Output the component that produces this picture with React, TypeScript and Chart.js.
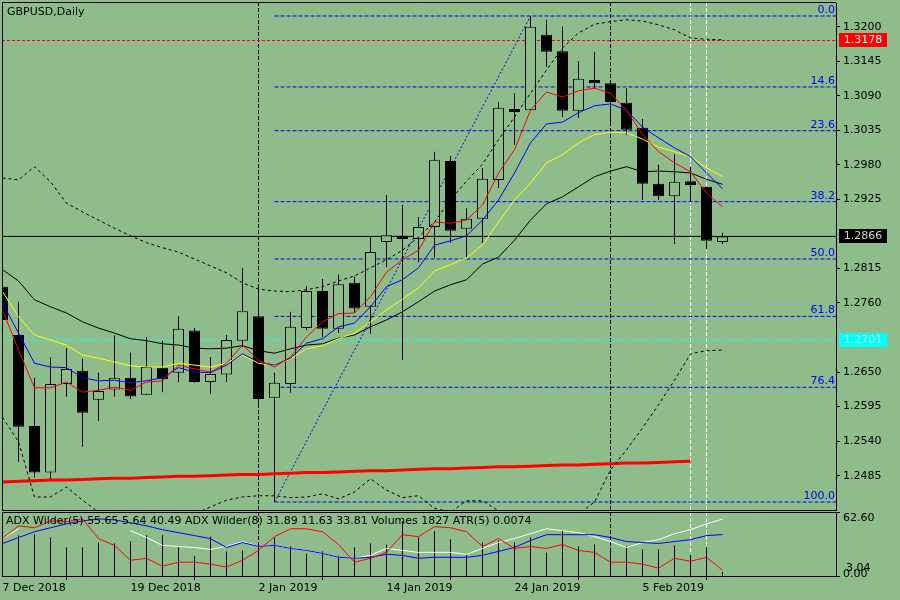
import React, { useEffect, useRef } from 'react';
import { Chart, registerables } from 'chart.js';

Chart.register(...registerables);

const BG = '#8fbc8b';
const FAMILY = "'DejaVu Sans', sans-serif";
const FONT = `11px ${FAMILY}`;

// ---------- data ----------
const dates = [
  '7 Dec 2018', '10 Dec 2018', '11 Dec 2018', '12 Dec 2018', '13 Dec 2018', '14 Dec 2018', '17 Dec 2018', '18 Dec 2018',
  '19 Dec 2018', '20 Dec 2018', '21 Dec 2018', '24 Dec 2018', '26 Dec 2018', '27 Dec 2018', '28 Dec 2018', '31 Dec 2018',
  '2 Jan 2019', '3 Jan 2019', '4 Jan 2019', '7 Jan 2019', '8 Jan 2019', '9 Jan 2019', '10 Jan 2019', '11 Jan 2019',
  '14 Jan 2019', '15 Jan 2019', '16 Jan 2019', '17 Jan 2019', '18 Jan 2019', '21 Jan 2019', '22 Jan 2019', '23 Jan 2019',
  '24 Jan 2019', '25 Jan 2019', '28 Jan 2019', '29 Jan 2019', '30 Jan 2019', '31 Jan 2019', '1 Feb 2019', '4 Feb 2019',
  '5 Feb 2019', '6 Feb 2019', '7 Feb 2019', '8 Feb 2019', '11 Feb 2019', '12 Feb 2019',
];
const dateTickIdx = [0, 8, 16, 24, 32, 40];

const opens = [
  1.2786, 1.2709, 1.2564, 1.2490, 1.2631, 1.2652, 1.2606, 1.2622, 1.2641, 1.2614,
  1.2657, 1.2649, 1.2716, 1.2634, 1.2646, 1.2700, 1.2739, 1.2609, 1.2631, 1.2720,
  1.2779, 1.2719, 1.2792, 1.2754, 1.2857, 1.2867, 1.2862, 1.2881, 1.2986, 1.2878,
  1.2894, 1.2956, 1.3069, 1.3067, 1.3187, 1.3161, 1.3066, 1.3115, 1.3110, 1.3079,
  1.3039, 1.2950, 1.2930, 1.2954, 1.2945, 1.2857,
];
const highs = [
  1.2789, 1.2762, 1.2641, 1.2673, 1.2688, 1.2671, 1.2649, 1.2708, 1.2681, 1.2706,
  1.2700, 1.2739, 1.2720, 1.2674, 1.2709, 1.2816, 1.2786, 1.2649, 1.2746, 1.2787,
  1.2798, 1.2805, 1.2802, 1.2865, 1.2932, 1.2916, 1.2897, 1.3001, 1.2994, 1.2911,
  1.2975, 1.3080, 1.3094, 1.3217, 1.3211, 1.3200, 1.3145, 1.3160, 1.3112, 1.3102,
  1.3053, 1.2980, 1.2997, 1.2977, 1.2945, 1.2872,
];
const lows = [
  1.2730, 1.2507, 1.2482, 1.2478, 1.2611, 1.2531, 1.2572, 1.2611, 1.2607, 1.2614,
  1.2618, 1.2634, 1.2633, 1.2615, 1.2634, 1.2690, 1.2598, 1.2443, 1.2617, 1.2717,
  1.2706, 1.2712, 1.2744, 1.2711, 1.2817, 1.2669, 1.2825, 1.2832, 1.2856, 1.2833,
  1.2856, 1.2943, 1.3012, 1.3067, 1.3136, 1.3056, 1.3055, 1.3101, 1.3044, 1.3028,
  1.2924, 1.2924, 1.2854, 1.2921, 1.2846, 1.2854,
];
const closes = [
  1.2733, 1.2563, 1.2490, 1.2631, 1.2655, 1.2585, 1.2620, 1.2641, 1.2611, 1.2658,
  1.2639, 1.2719, 1.2634, 1.2647, 1.2701, 1.2747, 1.2607, 1.2633, 1.2722, 1.2779,
  1.2719, 1.2790, 1.2751, 1.2841, 1.2868, 1.2862, 1.2881, 1.2988, 1.2875, 1.2894,
  1.2958, 1.3071, 1.3064, 1.3200, 1.3160, 1.3066, 1.3117, 1.3110, 1.3080, 1.3036,
  1.2950, 1.2930, 1.2953, 1.2948, 1.2859, 1.2866,
];

const maRed = [
  1.2749, 1.2685, 1.2625, 1.2625, 1.2634, 1.2618, 1.2621, 1.2626, 1.2621, 1.2634,
  1.2636, 1.2661, 1.2655, 1.2650, 1.2664, 1.2693, 1.2669, 1.2658, 1.2674, 1.2706,
  1.2730, 1.2743, 1.2744, 1.2770, 1.2809, 1.2829, 1.2844, 1.2889, 1.2887, 1.2892,
  1.2916, 1.2967, 1.3004, 1.3067, 1.3096, 1.3088, 1.3098, 1.3102, 1.3094, 1.3067,
  1.3028, 1.3001, 1.2983, 1.2969, 1.2935, 1.2913,
];
const maBlue = [
  1.2760, 1.2712, 1.2664, 1.2658, 1.2657, 1.2641, 1.2636, 1.2637, 1.2633, 1.2636,
  1.2641, 1.2657, 1.2650, 1.2649, 1.2661, 1.2679, 1.2666, 1.2661, 1.2672, 1.2696,
  1.2703, 1.2722, 1.2728, 1.2754, 1.2786, 1.2797, 1.2816, 1.2852, 1.2859, 1.2867,
  1.2892, 1.2924, 1.2967, 1.3015, 1.3045, 1.3048, 1.3063, 1.3074, 1.3077, 1.3067,
  1.3040, 1.3023, 1.3007, 1.2993, 1.2967, 1.2942,
];
const maYellow = [
  1.2778, 1.2738, 1.2709, 1.2701, 1.2693, 1.2677, 1.2672, 1.2666, 1.2660, 1.2658,
  1.2658, 1.2664, 1.2661, 1.2658, 1.2664, 1.2677, 1.2664, 1.2660, 1.2671, 1.2687,
  1.2692, 1.2703, 1.2712, 1.2730, 1.2749, 1.2766, 1.2784, 1.2811, 1.2821, 1.2832,
  1.2852, 1.2889, 1.2924, 1.2951, 1.2983, 1.2996, 1.3015, 1.3028, 1.3032, 1.3031,
  1.3021, 1.3008, 1.3001, 1.2993, 1.2975, 1.2961,
];
const maBlack = [
  1.2813, 1.2795, 1.2765, 1.2754, 1.2744, 1.2730, 1.2720, 1.2712, 1.2703, 1.2700,
  1.2695, 1.2693, 1.2688, 1.2687, 1.2688, 1.2692, 1.2684, 1.2680, 1.2687, 1.2693,
  1.2695, 1.2704, 1.2709, 1.2722, 1.2733, 1.2746, 1.2762, 1.2779, 1.2789, 1.2797,
  1.2822, 1.2833, 1.2860, 1.2892, 1.2918, 1.2929, 1.2945, 1.2961, 1.2970, 1.2977,
  1.2969, 1.2970, 1.2969, 1.2967, 1.2957, 1.2949,
];
const bbUpper = [
  1.2959, 1.2956, 1.2977, 1.2953, 1.2919, 1.2905, 1.2892, 1.2879, 1.2867, 1.2856,
  1.2848, 1.2841, 1.2830, 1.2819, 1.2808, 1.2792, 1.2782, 1.2779, 1.2778, 1.2781,
  1.2786, 1.2795, 1.2803, 1.2816, 1.2829, 1.2844, 1.2865, 1.2889, 1.2924, 1.2954,
  1.2981, 1.3020, 1.3056, 1.3094, 1.3131, 1.3166, 1.3190, 1.3204, 1.3208, 1.3211,
  1.3209, 1.3203, 1.3195, 1.3182, 1.3180, 1.3179,
];
const bbLower = [
  1.2578, 1.2539, 1.2451, 1.2451, 1.2467, 1.2446, 1.2427, 1.2418, 1.2411, 1.2406,
  1.2408, 1.2414, 1.2424, 1.2435, 1.2446, 1.2451, 1.2453, 1.2453, 1.2450, 1.2451,
  1.2456, 1.2448, 1.2459, 1.2480, 1.2462, 1.2450, 1.2453, 1.2433, 1.2427, 1.2445,
  1.2445, 1.2429, 1.2422, 1.2418, 1.2414, 1.2418, 1.2424, 1.2443, 1.2494, 1.2526,
  1.2561, 1.2598, 1.2637, 1.2679, 1.2684, 1.2685,
];
const ma200 = [
  1.2475, 1.2476, 1.2477, 1.2478, 1.2478, 1.2479, 1.2480, 1.2481, 1.2481, 1.2482,
  1.2483, 1.2484, 1.2484, 1.2485, 1.2486, 1.2487, 1.2487, 1.2488, 1.2489, 1.2490,
  1.2490, 1.2491, 1.2492, 1.2493, 1.2493, 1.2494, 1.2495, 1.2496, 1.2496, 1.2497,
  1.2498, 1.2499, 1.2499, 1.2500, 1.2501, 1.2502, 1.2502, 1.2503, 1.2504, 1.2505,
  1.2505, 1.2506, 1.2507, 1.2508, null, null,
];

// sub window (ADX Wilder / Volumes)
const adxMain = [
  36.6, 46.2, null, null, null, null, null, null, 44.3, 37.6,
  29.9, 28.9, 27.9, 26.0, 28.9, 33.7, 28.9, 29.9, 27.0, 25.0,
  22.1, 18.3, 17.3, 20.2, 27.0, 25.0, 23.1, 23.1, 23.1, 21.2,
  27.0, 32.7, 36.6, 41.4, 46.2, 44.3, 42.4, 38.5, 33.7, 27.9,
  32.7, 35.6, 41.4, 45.3, 51.0, 55.65,
];
const minusDI = [
  31.8, 37.6, 43.3, 47.2, 51.0, 53.9, 55.9, 54.9, 52.0, 49.1,
  45.3, 42.4, 39.5, 36.6, 27.9, 32.7, 28.9, 29.9, 27.0, 25.0,
  22.1, 18.3, 17.3, 18.3, 21.2, 20.2, 17.3, 18.3, 18.3, 18.3,
  20.2, 24.1, 27.9, 34.7, 40.4, 40.4, 40.4, 40.4, 37.6, 33.7,
  32.7, 31.8, 33.7, 35.6, 39.5, 40.49,
];
const plusDI = [
  36.6, 49.1, 47.2, 53.9, 53.0, 55.9, 36.6, 29.9, 15.4, 17.3,
  9.6, 13.5, 13.5, 11.6, 8.7, 15.4, 25.0, 38.5, 46.2, 46.2,
  43.3, 30.8, 13.5, 17.3, 23.1, 40.4, 38.5, 48.2, 47.2, 43.3,
  28.9, 36.6, 27.0, 28.9, 27.0, 30.8, 25.0, 23.1, 13.5, 13.5,
  11.6, 7.7, 17.3, 14.4, 18.3, 5.64,
];
const volumes = [
  16450, 18280, 18740, 17370, 12800, 12800, 15080, 14620, 15540, 18280,
  18280, 12800, 9140, 17820, 10970, 11430, 14170, 17370, 13250, 10050,
  10970, 9140, 12800, 14620, 14170, 24680, 17370, 20110, 16450, 9600,
  15080, 16000, 15080, 17370, 10510, 20570, 13250, 14170, 12800, 13250,
  11880, 11880, 13710, 9600, 12800, 1827,
];
const subHeader = 'ADX Wilder(5) 55.65 5.64 40.49 ADX Wilder(8) 31.89 11.63 33.81 Volumes 1827 ATR(5) 0.0074';

const priceTicks = [1.3200, 1.3145, 1.3090, 1.3035, 1.2980, 1.2925, 1.2815, 1.2760, 1.2650, 1.2595, 1.2540, 1.2485];
const fibLevels = [0, 14.6, 23.6, 38.2, 50, 61.8, 76.4, 100];
const fibHigh = 1.3217;
const fibLow = 1.2443;
const fibHighIdx = 33;
const fibLowIdx = 17;
const redLevel = 1.3178;
const bidPrice = 1.2866;
const cyanLevel = 1.2701;
const blackVLines = [16, 38];
const whiteVLines = [43, 44];
const markers = [
  { price: redLevel, bg: '#ff0000', fg: '#ffffff' },
  { price: bidPrice, bg: '#000000', fg: '#c8dcc8' },
  { price: cyanLevel, bg: '#00ffff', fg: '#b8e8e0' },
];

const priceMin = 1.24303;
const priceMax = 1.32377;
const xMin = -0.03125;
const xMax = 52.09375;
const adxMax = 62.6;
const volMax = 28790;

// ---------- helpers ----------
const fibPrice = (level: number) => fibHigh - ((fibHigh - fibLow) * level) / 100;
const pts = (vals: (number | null)[]) => vals.map((v, i) => ({ x: i, y: v }));

function lineDs(vals: (number | null)[], color: string, width: number, dash: number[], order: number, yAxisID = 'y') {
  return {
    type: 'line', data: pts(vals), borderColor: color, borderWidth: width, borderDash: dash,
    pointRadius: 0, pointHoverRadius: 0, order, yAxisID, spanGaps: false, fill: false,
  };
}
function segDs(x1: number, y1: number, x2: number, y2: number, color: string, dash: number[], order: number, yAxisID = 'y') {
  return {
    type: 'line', data: [{ x: x1, y: y1 }, { x: x2, y: y2 }], borderColor: color, borderWidth: 1,
    borderDash: dash, pointRadius: 0, pointHoverRadius: 0, order, yAxisID, fill: false,
  };
}

const mainDeco = {
  id: 'mainDeco',
  afterDraw(chart: any) {
    const { ctx, chartArea: a } = chart;
    const ys = chart.scales.y;
    ctx.save();
    ctx.strokeStyle = '#000';
    ctx.lineWidth = 1;
    ctx.setLineDash([]);
    ctx.beginPath();
    ctx.moveTo(a.left + 0.5, a.bottom + 0.5);
    ctx.lineTo(a.left + 0.5, a.top - 0.5);
    ctx.lineTo(a.right, a.top - 0.5);
    ctx.moveTo(a.left + 0.5, a.bottom + 0.5);
    ctx.lineTo(a.right, a.bottom + 0.5);
    ctx.stroke();

    ctx.font = FONT;
    ctx.fillStyle = '#000';
    ctx.textAlign = 'left';
    ctx.textBaseline = 'middle';
    ctx.fillText('GBPUSD,Daily', 7, 12);

    ctx.fillStyle = '#0000ff';
    ctx.textAlign = 'right';
    ctx.textBaseline = 'alphabetic';
    fibLevels.forEach((l) => {
      const py = ys.getPixelForValue(fibPrice(l));
      ctx.fillText(l.toFixed(1), a.right - 1, py - 3);
    });

    markers.forEach((m) => {
      const py = Math.round(ys.getPixelForValue(m.price));
      ctx.fillStyle = m.bg;
      ctx.fillRect(a.right + 3, py - 7, 48, 14);
      ctx.fillStyle = m.fg;
      ctx.textAlign = 'center';
      ctx.textBaseline = 'middle';
      ctx.fillText(m.price.toFixed(4), a.right + 3 + 24, py + 0.5);
    });
    ctx.restore();
  },
};

const subDeco = {
  id: 'subDeco',
  afterDraw(chart: any) {
    const { ctx, chartArea: a } = chart;
    const ys = chart.scales.y;
    ctx.save();
    ctx.strokeStyle = '#000';
    ctx.lineWidth = 1;
    ctx.setLineDash([]);
    ctx.beginPath();
    ctx.moveTo(a.left + 0.5, a.bottom);
    ctx.lineTo(a.left + 0.5, a.top + 0.5);
    ctx.lineTo(a.right, a.top + 0.5);
    ctx.stroke();

    ctx.font = FONT;
    ctx.fillStyle = '#000';
    ctx.textAlign = 'left';
    ctx.textBaseline = 'middle';
    ctx.fillText(subHeader, 6, 9);
    ctx.fillText(adxMax.toFixed(2), a.right + 7, ys.getPixelForValue(adxMax) + 6);
    ctx.fillText('3.04', a.right + 10, ys.getPixelForValue(0) - 8);
    ctx.fillText((0).toFixed(2), a.right + 7, ys.getPixelForValue(0) - 2);
    ctx.restore();
  },
};

const tickFont = { family: FAMILY, size: 11 };

export default function App() {
  const mainRef = useRef<HTMLCanvasElement>(null);
  const subRef = useRef<HTMLCanvasElement>(null);

  useEffect(() => {
    document.body.style.margin = '0';
    const mainChart = new Chart(mainRef.current as HTMLCanvasElement, {
      type: 'bar',
      data: {
        datasets: [
          lineDs(maRed, '#ff0000', 1, [], 1),
          lineDs(maBlue, '#0000ff', 1, [], 2),
          lineDs(maYellow, '#ffff00', 1, [], 3),
          lineDs(maBlack, '#000000', 1, [], 4),
          lineDs(bbUpper, '#000000', 1, [3, 3], 5),
          lineDs(bbLower, '#000000', 1, [3, 3], 5),
          lineDs(ma200, '#ff0000', 3, [], 6),
          {
            type: 'bar',
            data: opens.map((o, i) => ({ x: i, y: [o, closes[i]] })),
            backgroundColor: opens.map((o, i) => (closes[i] >= o ? BG : '#000000')),
            borderColor: '#000000', borderWidth: 1, borderSkipped: false,
            barThickness: 11, grouped: false, inflateAmount: 0, order: 10,
          },
          {
            type: 'bar',
            data: lows.map((l, i) => ({ x: i, y: [l, highs[i]] })),
            backgroundColor: '#000000', borderWidth: 0,
            barThickness: 1, grouped: false, inflateAmount: 0, order: 11,
          },
          ...fibLevels.map((l) => segDs(fibLowIdx, fibPrice(l), xMax, fibPrice(l), '#0000ff', [4, 2], 20)),
          segDs(fibLowIdx, fibLow, fibHighIdx, fibHigh, '#0000ff', [2, 2], 20),
          segDs(xMin, redLevel, xMax, redLevel, '#ff0000', [3, 2], 20),
          segDs(xMin, cyanLevel, xMax, cyanLevel, '#00ffff', [4, 2], 20),
          segDs(xMin, bidPrice, xMax, bidPrice, '#000000', [], 20),
          ...blackVLines.map((i) => segDs(i, priceMin, i, priceMax, '#000000', [4, 2], 21)),
          ...whiteVLines.map((i) => segDs(i, priceMin, i, priceMax, '#ffffff', [4, 2], 21)),
        ] as any,
      },
      options: {
        responsive: false,
        animation: false,
        devicePixelRatio: 1,
        events: [],
        layout: { padding: { left: 2, top: 3, right: 0, bottom: 2 } },
        plugins: { legend: { display: false }, tooltip: { enabled: false } },
        scales: {
          x: { type: 'linear', min: xMin, max: xMax, offset: false, display: false },
          y: {
            type: 'linear', position: 'right', min: priceMin, max: priceMax,
            afterBuildTicks: (s: any) => { s.ticks = priceTicks.map((v) => ({ value: v })); },
            afterFit: (s: any) => { s.width = 64; s.paddingTop = 0; s.paddingBottom = 0; },
            ticks: {
              callback: (v: any) => Number(v).toFixed(4), color: '#000000', font: tickFont,
              padding: 3, autoSkip: false,
            },
            grid: { drawOnChartArea: false, drawTicks: true, tickLength: 4, color: '#000000' },
            border: { display: true, color: '#000000' },
          },
        } as any,
      },
      plugins: [mainDeco],
    } as any);

    const subChart = new Chart(subRef.current as HTMLCanvasElement, {
      type: 'bar',
      data: {
        datasets: [
          lineDs(plusDI, '#ff0000', 1, [], 1),
          lineDs(minusDI, '#0000ff', 1, [], 2),
          lineDs(adxMain, '#ffffff', 1, [], 3),
          {
            type: 'bar', data: pts(volumes), yAxisID: 'yv', backgroundColor: '#000000', borderWidth: 0,
            barThickness: 1, grouped: false, inflateAmount: 0, order: 10,
          },
          ...blackVLines.map((i) => segDs(i, 0, i, adxMax, '#000000', [4, 2], 21)),
          ...whiteVLines.map((i) => segDs(i, 0, i, adxMax, '#ffffff', [4, 2], 21)),
        ] as any,
      },
      options: {
        responsive: false,
        animation: false,
        devicePixelRatio: 1,
        events: [],
        layout: { padding: { left: 2, top: 0, right: 0, bottom: 0 } },
        plugins: { legend: { display: false }, tooltip: { enabled: false } },
        scales: {
          x: {
            type: 'linear', min: xMin, max: xMax, offset: false, position: 'bottom',
            afterBuildTicks: (s: any) => { s.ticks = dateTickIdx.map((v) => ({ value: v })); },
            afterFit: (s: any) => { s.height = 24; s.paddingLeft = 0; s.paddingRight = 0; },
            ticks: {
              callback: (v: any) => dates[Number(v)], align: 'start', autoSkip: false,
              maxRotation: 0, minRotation: 0, color: '#000000', font: tickFont, padding: 2,
            },
            grid: { drawOnChartArea: false, drawTicks: true, tickLength: 4, color: '#000000' },
            border: { display: true, color: '#000000' },
          },
          y: {
            type: 'linear', position: 'right', min: 0, max: adxMax,
            afterBuildTicks: (s: any) => { s.ticks = [{ value: 0 }, { value: adxMax }]; },
            afterFit: (s: any) => { s.width = 64; s.paddingTop = 0; s.paddingBottom = 0; },
            ticks: { display: false },
            grid: { drawOnChartArea: false, drawTicks: true, tickLength: 4, color: '#000000' },
            border: { display: true, color: '#000000' },
          },
          yv: { type: 'linear', display: false, min: 0, max: volMax },
        } as any,
      },
      plugins: [subDeco],
    } as any);

    return () => {
      mainChart.destroy();
      subChart.destroy();
    };
  }, []);

  return (
    <div style={{ position: 'absolute', left: 0, top: 0, width: 900, height: 600, background: BG, overflow: 'hidden' }}>
      <canvas ref={mainRef} width={900} height={512} style={{ position: 'absolute', left: 0, top: 0 }} />
      <canvas ref={subRef} width={900} height={88} style={{ position: 'absolute', left: 0, top: 512 }} />
    </div>
  );
}
